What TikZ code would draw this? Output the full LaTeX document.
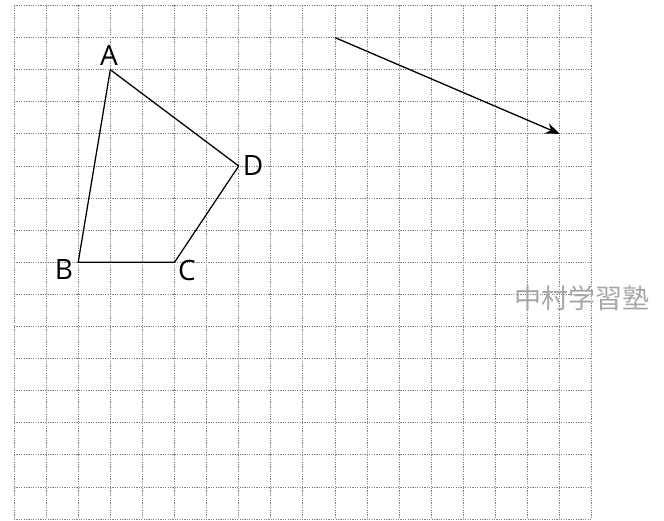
\documentclass[tikz,border=0pt]{standalone}
\usepackage{fontspec}
\setmainfont{Open Sans}
\newfontfamily\cjk{Noto Sans CJK JP}
\usetikzlibrary{arrows.meta}
\begin{document}
\begin{tikzpicture}[x=1pt,y=-1pt,
  gridline/.style={draw=black!50,line width=0.9pt,dash pattern=on 1.2pt off 1.2pt},
  edge/.style={draw=black,line width=1.3pt},
  lbl/.style={font=\fontsize{28}{28}\selectfont,inner sep=0pt}]
\useasboundingbox (0,0) rectangle (664,521);
\foreach \i in {0,...,18} \draw[gridline] ({14+\i*32.1},5.5) -- ({14+\i*32.1},519);
\foreach \j in {0,...,16} \draw[gridline] (14,{5.5+\j*32.1}) -- (592,{5.5+\j*32.1});
\coordinate (A) at (110.3,69.7);
\coordinate (B) at (78.2,262.3);
\coordinate (C) at (174.5,262.3);
\coordinate (D) at (238.7,166);
\coordinate (P) at (335,37.6);
\coordinate (Q) at (559.7,133.9);
\draw[edge,line join=round] (A) -- (B) -- (C) -- (D) -- cycle;
\draw[edge,-{Stealth[length=14pt,width=11pt]}] (P) -- (Q);
\node[lbl] (la) at (109,55) {A};
\node[lbl] (lb) at (64,270) {B};
\node[lbl] (lc) at (187,270) {C};
\node[lbl] (ld) at (253,166) {D};
\node[inner sep=0pt,text=black!35,font=\cjk\fontsize{27}{27}\selectfont] (wm) at (582,298) {中村学習塾};
\end{tikzpicture}
\end{document}
